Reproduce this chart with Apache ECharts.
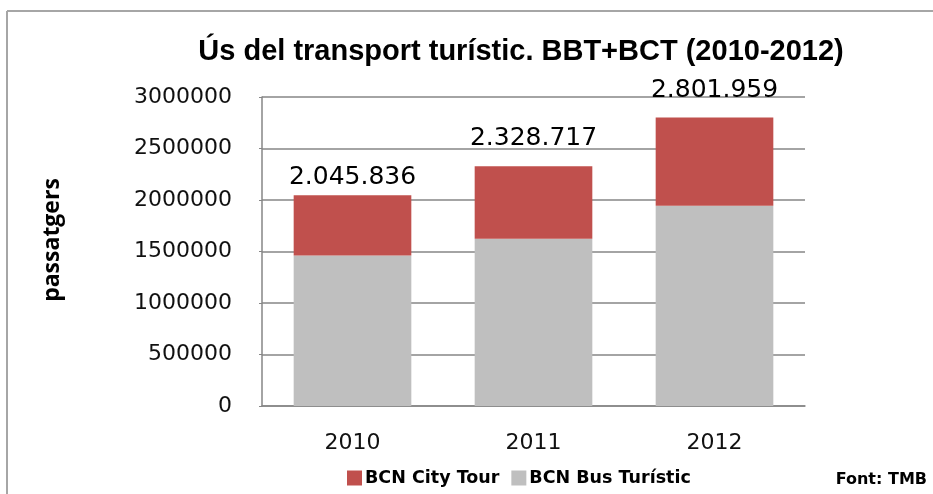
<!DOCTYPE html>
<html>
<head>
<meta charset="utf-8">
<script src="https://cdn.jsdelivr.net/npm/echarts@6/dist/echarts.min.js"></script>
<style>
  html, body { margin: 0; padding: 0; background: #fff; }
  #chart { width: 933px; height: 494px; }
</style>
</head>
<body>
<div id="chart"></div>
<script>
// dades llegides del gràfic
const years = ['2010', '2011', '2012'];
const cityTour = [585836, 703717, 856959];
const busTuristic = [1460000, 1625000, 1945000];
const yTicks = [0, 500000, 1000000, 1500000, 2000000, 2500000, 3000000];

const totals = years.map((y, i) => cityTour[i] + busTuristic[i]);
const fmt = (v) => String(v).replace(/\B(?=(\d{3})+(?!\d))/g, '.');
const labelDistance = [5, 15, 14];

const myChart = echarts.init(document.getElementById('chart'));

const option = {
  animation: false,
  backgroundColor: '#fff',
  title: {
    text: 'Ús del transport turístic. BBT+BCT (2010-2012)',
    left: 516,
    top: 32,
    textAlign: 'center',
    textStyle: {
      fontFamily: 'Liberation Sans',
      fontWeight: 'bold',
      fontSize: 29,
      color: '#000'
    }
  },
  legend: {
    data: ['BCN City Tour', 'BCN Bus Turístic'],
    left: 342,
    top: 464,
    itemWidth: 15,
    itemHeight: 15,
    itemGap: 12,
    icon: 'rect',
    textStyle: {
      fontFamily: 'DejaVu Sans',
      fontWeight: 'bold',
      fontSize: 17.5,
      color: '#000',
      padding: [0, 0, 0, -2]
    }
  },
  grid: {
    left: 262,
    right: 128,
    top: 97,
    bottom: 88
  },
  xAxis: {
    type: 'category',
    data: years,
    axisTick: { show: false },
    axisLine: { lineStyle: { color: '#868686', width: 1.5 } },
    axisLabel: {
      fontFamily: 'DejaVu Sans',
      fontSize: 22,
      color: '#111',
      margin: 26
    }
  },
  yAxis: {
    type: 'value',
    min: yTicks[0],
    max: yTicks[yTicks.length - 1],
    interval: yTicks[1] - yTicks[0],
    axisLine: { show: true, lineStyle: { color: '#868686', width: 1.5 } },
    axisTick: { show: true, length: 3, lineStyle: { color: '#868686' } },
    splitLine: { lineStyle: { color: '#868686', width: 1.5 } },
    axisLabel: {
      fontFamily: 'DejaVu Sans',
      fontSize: 22,
      color: '#111',
      margin: 30,
      formatter: (v) => String(v)
    }
  },
  series: [
    {
      name: 'BCN Bus Turístic',
      type: 'bar',
      stack: 'total',
      barCategoryGap: '35%',
      itemStyle: { color: '#BFBFBF' },
      data: busTuristic
    },
    {
      name: 'BCN City Tour',
      type: 'bar',
      stack: 'total',
      barCategoryGap: '35%',
      itemStyle: { color: '#C0504D' },
      data: cityTour.map((v, i) => ({
        value: v,
        label: {
          show: true,
          position: 'top',
          distance: labelDistance[i],
          formatter: () => fmt(totals[i]),
          fontFamily: 'DejaVu Sans',
          fontSize: 25,
          color: '#000'
        }
      }))
    }
  ],
  graphic: [
    {
      type: 'line',
      shape: { x1: 7, y1: 11, x2: 933, y2: 11 },
      style: { stroke: '#a6a6a6', lineWidth: 2 },
      silent: true
    },
    {
      type: 'line',
      shape: { x1: 7, y1: 11, x2: 7, y2: 494 },
      style: { stroke: '#a6a6a6', lineWidth: 2 },
      silent: true
    },
    {
      type: 'text',
      x: 52,
      y: 240,
      rotation: Math.PI / 2,
      style: {
        text: 'passatgers',
        font: 'bold 23px "Open Sans"',
        fill: '#000',
        align: 'center',
        verticalAlign: 'middle'
      }
    },
    {
      type: 'text',
      x: 927,
      y: 480,
      style: {
        text: 'Font: TMB',
        font: 'bold 16px "DejaVu Sans"',
        fill: '#000',
        align: 'right',
        verticalAlign: 'middle'
      }
    }
  ]
};

myChart.setOption(option);
</script>
</body>
</html>
